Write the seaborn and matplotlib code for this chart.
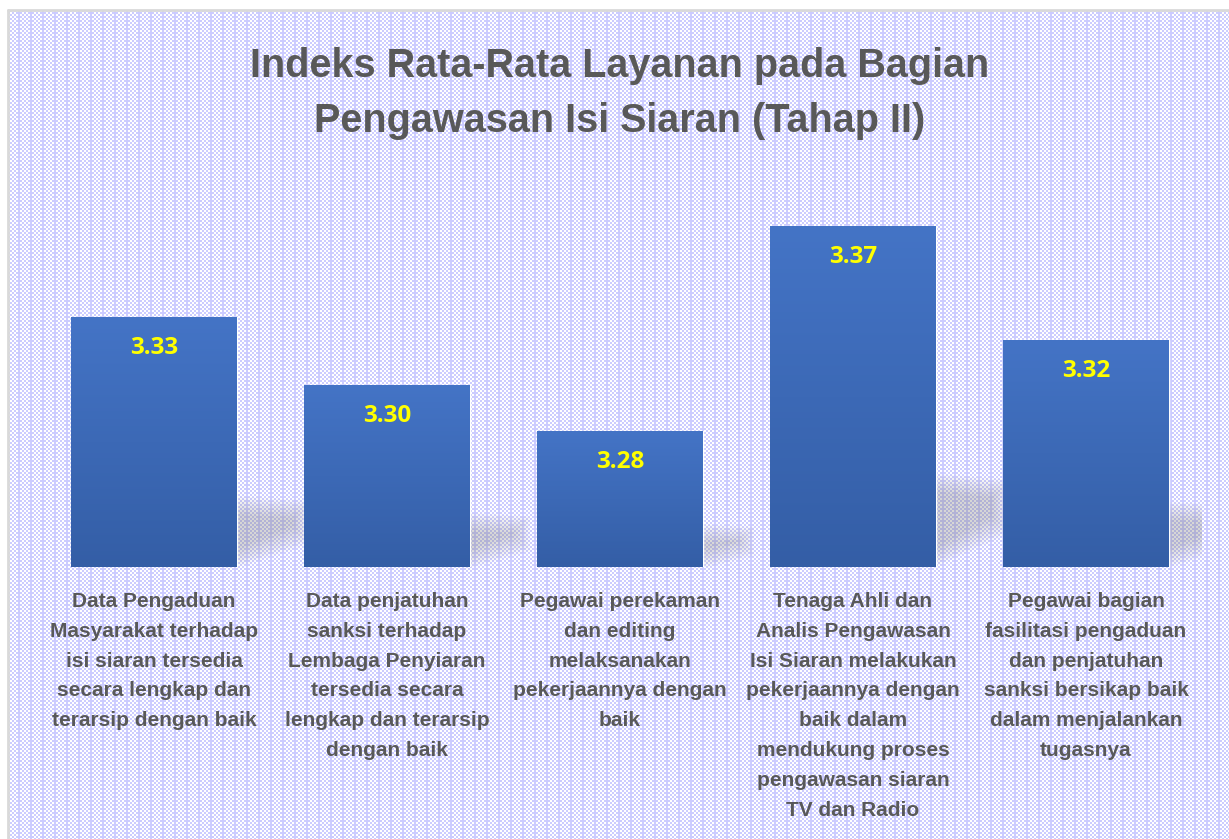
import numpy as np
import pandas as pd
import matplotlib
matplotlib.use('Agg')
import matplotlib.pyplot as plt
import seaborn as sns
from matplotlib.colors import LinearSegmentedColormap
from matplotlib.patches import Polygon
from matplotlib.lines import Line2D

# Data
categories = [
    "Data Pengaduan\nMasyarakat terhadap\nisi siaran tersedia\nsecara lengkap dan\nterarsip dengan baik",
    "Data penjatuhan\nsanksi terhadap\nLembaga Penyiaran\ntersedia secara\nlengkap dan terarsip\ndengan baik",
    "Pegawai perekaman\ndan editing\nmelaksanakan\npekerjaannya dengan\nbaik",
    "Tenaga Ahli dan\nAnalis Pengawasan\nIsi Siaran melakukan\npekerjaannya dengan\nbaik dalam\nmendukung proses\npengawasan siaran\nTV dan Radio",
    "Pegawai bagian\nfasilitasi pengaduan\ndan penjatuhan\nsanksi bersikap baik\ndalam menjalankan\ntugasnya",
]
values = [3.33, 3.30, 3.28, 3.37, 3.32]
title = "Indeks Rata-Rata Layanan pada Bagian\nPengawasan Isi Siaran (Tahap II)"

df = pd.DataFrame({'kategori': categories, 'nilai': values})

W, H = 1229, 839
sns.set_theme(style='white')
plt.rcParams['font.family'] = ['Liberation Sans', 'DejaVu Sans']

fig = plt.figure(figsize=(W / 100, H / 100), dpi=100)
fig.patch.set_facecolor('white')

# dotted lavender background inside the frame
yy, xx = np.mgrid[0:H, 0:W]
dots = ((xx // 2 + yy // 2) % 2 == 0) | ((xx % 6 < 2) & (yy % 4 < 2))
bg = np.ones((H, W, 3))
purple = np.array([0xcc, 0xcc, 0xff]) / 255
bg[dots] = purple
bg[:11, :] = 1.0
bg[:, :8] = 1.0
fig.figimage(bg, xo=0, yo=0, origin='upper', zorder=-10)

# frame border
fig.add_artist(Line2D([7.5 / W, 7.5 / W], [0, (H - 10) / H], transform=fig.transFigure,
                      color='#d9d9d9', lw=2))
fig.add_artist(Line2D([7.5 / W, 1], [(H - 10) / H, (H - 10) / H], transform=fig.transFigure,
                      color='#d9d9d9', lw=2))

ax = fig.add_axes([0.0305, 0.3242, 0.9479, 0.4875])
ax.set_facecolor('none')

sns.barplot(data=df, x='kategori', y='nilai', color='#3d69b6', width=0.712,
            saturation=1, ax=ax, zorder=2)

ymin, ymax = 3.22, 3.40
ax.set_xlim(-0.5, 4.5)
ax.set_ylim(ymin, ymax)

# pixel -> data scales
sx = 5 / (0.9479 * W)
sy = (ymax - ymin) / (0.4875 * H)

grad_cmap = LinearSegmentedColormap.from_list('grad', ['#345ea6', '#4474c6'])
grad = np.linspace(0, 1, 256).reshape(-1, 1)

for bar in ax.patches:
    x0, y0 = bar.get_x(), ymin
    x1 = x0 + bar.get_width()
    y1 = bar.get_y() + bar.get_height()
    im = ax.imshow(grad, extent=[x0, x1, y0, y1], origin='lower', aspect='auto',
                   cmap=grad_cmap, zorder=2.5, interpolation='bilinear')
    im.set_clip_path(bar)

    # soft perspective shadow to the right of the bar
    hpx = (y1 - y0) / sy
    L = min(65, 0.2 * hpx + 15)
    for k in range(8):
        e = (k - 3.5) * 2.5
        pts_px = [(-10, 5 + e), (-10, 0.25 * hpx - e), (L - e, 0.23 * hpx - e),
                  (L - e, 0.11 * hpx + 5 + e)]
        pts = [(x1 + dx * sx, y0 + dy * sy) for dx, dy in pts_px]
        ax.add_patch(Polygon(pts, closed=True, facecolor='#808080', edgecolor='none',
                             alpha=0.045, zorder=1))

ax.set_xlim(-0.5, 4.5)
ax.set_ylim(ymin, ymax)

for i, v in enumerate(values):
    ax.annotate(f'{v:.2f}', xy=(i, v), xytext=(0, -31), textcoords='offset pixels',
                ha='center', va='center', color='#ffff00', fontsize=17.5,
                fontweight='bold', family=['Open Sans', 'DejaVu Sans'], zorder=5)

ax.set_xticks(range(len(categories)))
ax.set_xticklabels(categories, fontsize=15, fontweight='bold', color='#595959',
                   linespacing=1.72)
ax.tick_params(axis='x', length=0, pad=18)
ax.set_yticks([])
ax.set_xlabel('')
ax.set_ylabel('')
for s in ax.spines.values():
    s.set_visible(False)

fig.text(0.5045, 0.9444, title, ha='center', va='top', fontsize=28.5,
         fontweight='bold', color='#595959', linespacing=1.58)

fig.savefig('out.png', dpi=100)
